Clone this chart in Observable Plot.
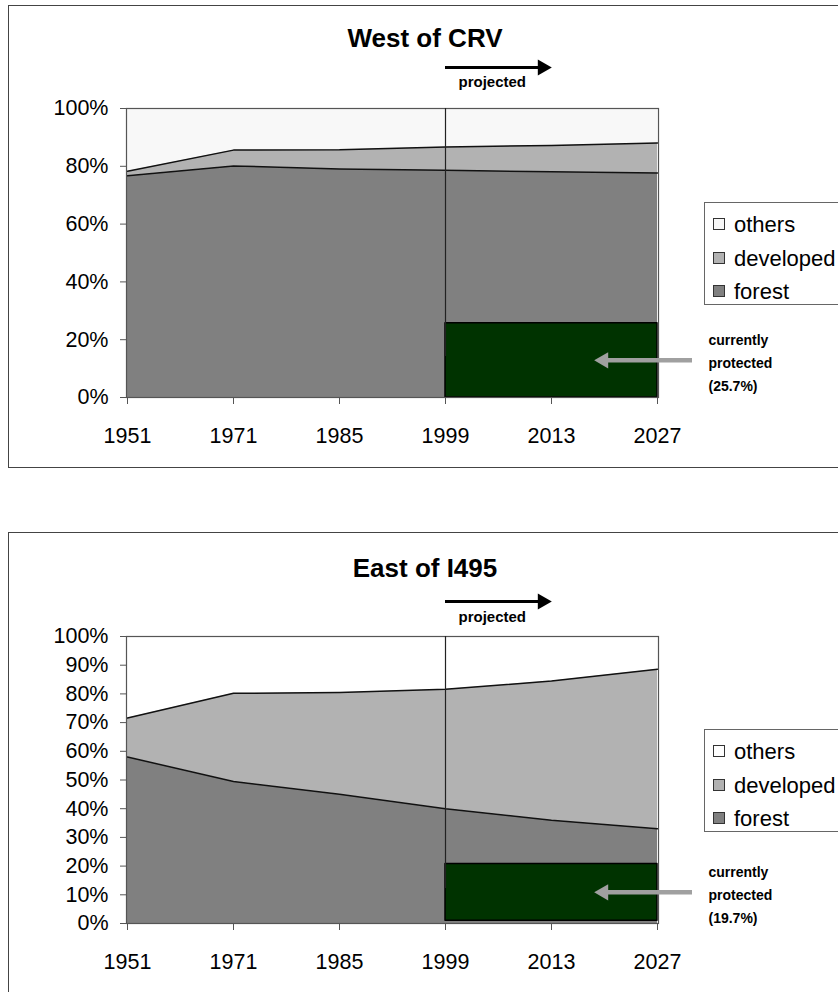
<!DOCTYPE html>
<html>
<head>
<meta charset="utf-8">
<script src="https://cdn.jsdelivr.net/npm/d3@7"></script>
<script src="https://cdn.jsdelivr.net/npm/@observablehq/plot@0.6"></script>
<style>
  body { margin: 0; background: #fff; font-family: "Liberation Sans", Arial, sans-serif; }
  #page { position: relative; width: 838px; height: 992px; overflow: hidden; background: #fff; }
  .frame { position: absolute; left: 8px; width: 900px; height: 463px; border: 1.5px solid #444; box-sizing: border-box; }
  .title { position: absolute; left: 0; width: 850px; text-align: center; font-weight: bold; font-size: 26px; line-height: 30px; color: #000; }
  .legend { position: absolute; left: 704px; width: 200px; height: 103px; border: 1px solid #666; background: #fff; box-sizing: border-box; }
  .item { position: absolute; left: 8px; height: 26px; line-height: 26px; font-size: 22px; color: #000; white-space: nowrap; }
  .sw { position: absolute; left: 0; top: 6px; width: 12px; height: 12px; border: 1px solid #333; box-sizing: border-box; }
  .item span.t { position: absolute; left: 21px; top: 0; }
  .chart { position: absolute; left: 0; }
</style>
</head>
<body>
<div id="page"></div>
<script>
// ---- data ----
const years = ["1951", "1971", "1985", "1999", "2013", "2027"];
const seriesNames = ["others", "developed", "forest"];

const westTitle = "West of CRV";
const westForest    = [76.7, 80.1, 79.1, 78.6, 78.1, 77.7];
const westDeveloped = [1.6, 5.5, 6.6, 8.1, 9.1, 10.4];
const westOthers    = [21.7, 14.4, 14.3, 13.3, 12.8, 11.9];
const westProtected = 25.7;
const westProtectedBase = 0;
const westYTicks = [0, 20, 40, 60, 80, 100];

const eastTitle = "East of I495";
const eastForest    = [58.0, 49.5, 45.0, 40.0, 36.0, 33.0];
const eastDeveloped = [13.6, 30.7, 35.5, 41.6, 48.5, 55.6];
const eastOthers    = [28.4, 19.8, 19.5, 18.4, 15.5, 11.4];
const eastProtected = 19.7;
const eastProtectedBase = 1.0;
const eastYTicks = [0, 10, 20, 30, 40, 50, 60, 70, 80, 90, 100];

const projectedFrom = "1999";
const projectedTo = "2013";

// ---- styles ----
const forestColor = "#808080";
const developedColor = "#b2b2b2";
const protectedColor = "#003300";
const FONT = '"Liberation Sans", Arial, sans-serif';

const page = document.getElementById("page");

function drawChart(cfg) {
  const frame = document.createElement("div");
  frame.className = "frame";
  frame.style.top = cfg.frameTop + "px";
  page.appendChild(frame);

  const title = document.createElement("div");
  title.className = "title";
  title.style.top = (cfg.frameTop + cfg.titleOffset - 15) + "px";
  title.textContent = cfg.title;
  page.appendChild(title);

  const rows = years.map((yr, i) => {
    const f = cfg.forest[i], d = cfg.developed[i], o = cfg.others[i];
    return { year: yr, fTop: f, dTop: f + d, oTop: f + d + o };
  });
  const fromIdx = years.indexOf(projectedFrom);
  const prot = years.slice(fromIdx).map(yr => ({ year: yr, lo: cfg.protBase, hi: cfg.protBase + cfg.prot }));
  const mid = cfg.protBase + cfg.prot / 2;
  const last = years[years.length - 1];
  const label = "currently\nprotected\n(" + cfg.prot.toFixed(1) + "%)";

  const svg = Plot.plot({
    width: 838,
    height: 415,
    marginLeft: 126,
    marginRight: 180,
    marginTop: cfg.marginTop,
    marginBottom: 415 - cfg.marginTop - cfg.plotHeight,
    style: { background: "transparent", fontFamily: FONT, fontSize: "21.5px", color: "#000", overflow: "visible" },
    x: { type: "point", domain: years, padding: 0, label: null },
    y: { domain: [0, 100], label: null },
    marks: [
      Plot.areaY(rows, { x: "year", y1: 0, y2: "fTop", fill: forestColor }),
      Plot.areaY(rows, { x: "year", y1: "fTop", y2: "dTop", fill: developedColor }),
      Plot.areaY(rows, { x: "year", y1: "dTop", y2: "oTop", fill: cfg.othersColor }),
      Plot.areaY(prot, { x: "year", y1: "lo", y2: "hi", fill: protectedColor, stroke: "#000", strokeWidth: 1.5 }),
      Plot.lineY(rows, { x: "year", y: "fTop", stroke: "#111", strokeWidth: 1.5 }),
      Plot.lineY(rows, { x: "year", y: "dTop", stroke: "#111", strokeWidth: 1.5 }),
      Plot.frame({ stroke: "#555", strokeWidth: 1.2 }),
      Plot.axisY({ ticks: cfg.yTicks, tickFormat: d => d + "%", tickSize: 6, tickPadding: 12, stroke: "#555", fill: "#000" }),
      Plot.axisX({ tickSize: 7, tickPadding: 23, stroke: "#555", fill: "#000" }),
      Plot.ruleX([projectedFrom], { y1: 0, y2: 100, insetTop: -cfg.arrowAbove, stroke: "#222", strokeWidth: 1.2 }),
      Plot.ruleY([100], { x1: () => projectedFrom, x2: () => projectedTo, dy: -cfg.arrowAbove, insetRight: 10, stroke: "#000", strokeWidth: 3 }),
      Plot.dot([0], { x: () => projectedTo, y: () => 100, symbol: "triangle", rotate: 90, r: 6, fill: "#000", stroke: "none", dx: -9, dy: -cfg.arrowAbove }),
      Plot.text(["projected"], { x: () => projectedFrom, y: () => 100, text: d => d, dx: 13, dy: -cfg.textAbove, textAnchor: "start", lineAnchor: "middle", fontSize: 15, fontWeight: "bold", fill: "#000" }),
      Plot.ruleY([mid], { x1: () => projectedTo, x2: () => last, insetLeft: 52, insetRight: -35, stroke: "#a0a0a0", strokeWidth: 4.5 }),
      Plot.dot([0], { x: () => projectedTo, y: () => mid, symbol: "triangle", rotate: -90, r: 6, fill: "#a0a0a0", stroke: "none", dx: 52 }),
      Plot.text([label], { x: () => last, y: () => mid, text: d => d, dx: 51, textAnchor: "start", lineAnchor: "middle", lineHeight: 1.65, fontSize: 14, fontWeight: "bold", fill: "#000" })
    ]
  });
  svg.classList.add("chart");
  svg.style.top = cfg.svgTop + "px";
  page.appendChild(svg);

  const legend = document.createElement("div");
  legend.className = "legend";
  legend.style.top = (cfg.frameTop + 197) + "px";
  const swatchColors = { others: cfg.othersColor, developed: developedColor, forest: forestColor };
  const centers = [22, 56, 89];
  seriesNames.forEach((name, i) => {
    const it = document.createElement("div");
    it.className = "item";
    it.style.top = (centers[i] - 13) + "px";
    const sw = document.createElement("div");
    sw.className = "sw";
    sw.style.background = swatchColors[name];
    const t = document.createElement("span");
    t.className = "t";
    t.textContent = name;
    it.appendChild(sw);
    it.appendChild(t);
    legend.appendChild(it);
  });
  page.appendChild(legend);
}

drawChart({
  title: westTitle, forest: westForest, developed: westDeveloped, others: westOthers,
  prot: westProtected, protBase: westProtectedBase, yTicks: westYTicks, othersColor: "#f8f8f8",
  frameTop: 5, titleOffset: 33, svgTop: 45, marginTop: 63, plotHeight: 289, arrowAbove: 41, textAbove: 26
});
drawChart({
  title: eastTitle, forest: eastForest, developed: eastDeveloped, others: eastOthers,
  prot: eastProtected, protBase: eastProtectedBase, yTicks: eastYTicks, othersColor: "#ffffff",
  frameTop: 532, titleOffset: 36, svgTop: 572, marginTop: 64, plotHeight: 287, arrowAbove: 35, textAbove: 19
});
</script>
</body>
</html>
